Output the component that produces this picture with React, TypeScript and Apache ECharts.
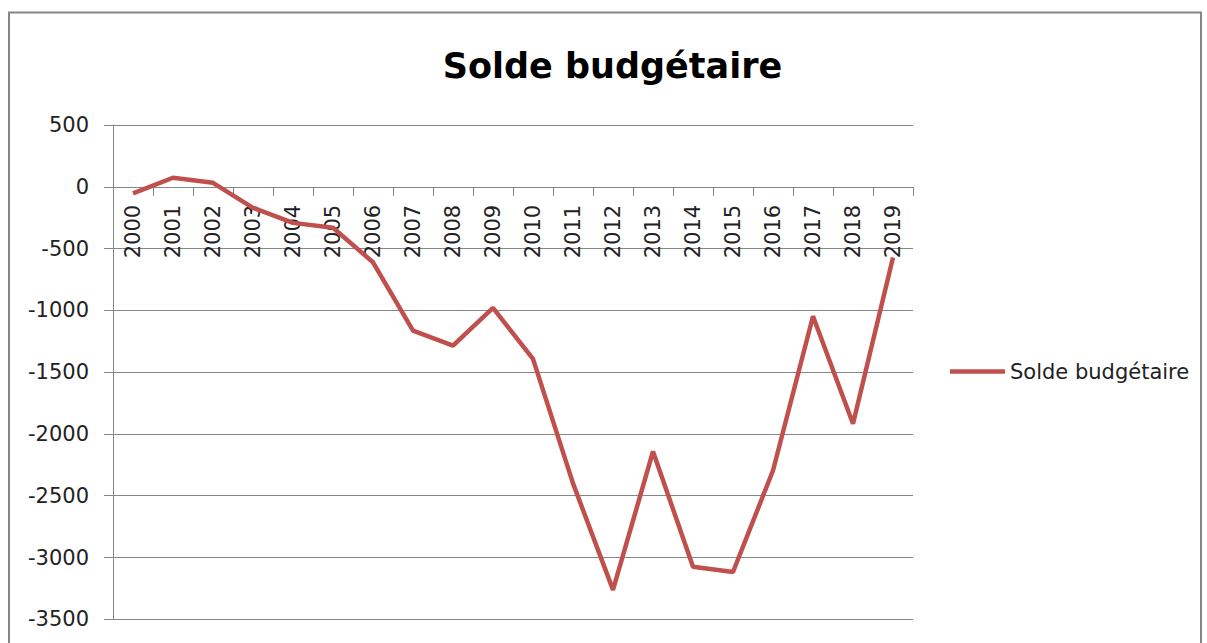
import React, { useEffect, useRef } from "react";
import * as echarts from "echarts";

const years = ["2000","2001","2002","2003","2004","2005","2006","2007","2008","2009","2010","2011","2012","2013","2014","2015","2016","2017","2018","2019"];
const solde = [-54, 73, 32, -170, -292, -332, -611, -1164, -1286, -980, -1393, -2400, -3262, -2142, -3074, -3117, -2296, -1048, -1918, -573];
const seriesName = "Solde budgétaire";
const titleText = "Solde budgétaire";
const yMin = -3500;
const yMax = 500;

export default function App() {
  const ref = useRef<HTMLDivElement>(null);
  useEffect(() => {
    const chart = echarts.init(ref.current!, null, { renderer: "svg" });
    const font = "DejaVu Sans";
    const gridTop = 125;
    const gridHeight = 494.3;
    const zeroOffset = -(gridHeight * (0 - yMin)) / (yMax - yMin);
    chart.setOption({
      animation: false,
      backgroundColor: "#ffffff",
      graphic: [
        {
          type: "rect",
          shape: { x: 9, y: 12.5, width: 1192, height: 700 },
          style: { fill: "none", stroke: "#868686", lineWidth: 2 },
          silent: true,
        },
        {
          type: "text",
          x: 612.5,
          y: 66,
          style: {
            text: titleText,
            font: `bold 35px "${font}"`,
            fill: "#000000",
            textAlign: "center",
            textVerticalAlign: "middle",
          },
        },
      ],
      legend: {
        show: true,
        data: [{ name: seriesName, icon: "rect" }],
        left: 950,
        top: 361,
        orient: "vertical",
        itemWidth: 55,
        itemHeight: 4.5,
        itemGap: 0,
        padding: 0,
        textStyle: { fontFamily: font, fontSize: 21, color: "#222222" },
      },
      grid: { left: 113, top: gridTop, width: 800, height: gridHeight, containLabel: false, outerBoundsMode: "none" },
      xAxis: {
        type: "category",
        data: years,
        boundaryGap: true,
        position: "bottom",
        offset: zeroOffset,
        axisLine: { onZero: false, lineStyle: { color: "#868686", width: 1 } },
        axisTick: { show: true, length: 9, alignWithLabel: false, lineStyle: { color: "#868686" } },
        axisLabel: {
          rotate: 90,
          margin: 18,
          interval: 0,
          fontFamily: font,
          fontSize: 21,
          color: "#222222",
        },
        splitLine: { show: false },
      },
      yAxis: {
        type: "value",
        min: yMin,
        max: yMax,
        interval: 500,
        axisLine: { show: true, lineStyle: { color: "#868686", width: 1 } },
        axisTick: { show: true, length: 9, lineStyle: { color: "#868686" } },
        axisLabel: {
          margin: 24,
          fontFamily: font,
          fontSize: 21,
          color: "#222222",
          formatter: (v: number) => String(v),
        },
        splitLine: { show: true, lineStyle: { color: "#868686", width: 1 } },
      },
      series: [
        {
          name: seriesName,
          type: "line",
          data: solde,
          symbol: "none",
          z: 5,
          lineStyle: { color: "#C0504D", width: 4.5 },
          itemStyle: { color: "#C0504D" },
        },
      ],
    });
    return () => chart.dispose();
  }, []);
  return (
    <div
      ref={ref}
      style={{ position: "fixed", left: 0, top: 0, width: 1207, height: 643 }}
    />
  );
}
